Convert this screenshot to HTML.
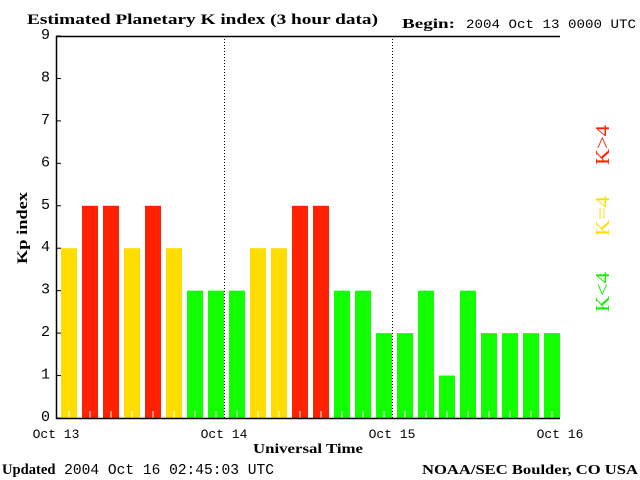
<!DOCTYPE html>
<html><head><meta charset="utf-8"><style>
body{margin:0;background:#fff;}
svg{display:block;font-family:"Liberation Mono",monospace;}
</style></head><body>
<svg id="chart" width="640" height="480" viewBox="0 0 640 480">
<text x="27" y="24" font-size="15" font-weight="bold" font-family="Liberation Serif, serif" textLength="351" lengthAdjust="spacingAndGlyphs">Estimated Planetary K index (3 hour data)</text>
<text x="402" y="28" font-size="14" font-weight="bold" font-family="Liberation Serif, serif" textLength="53" lengthAdjust="spacingAndGlyphs">Begin:</text>
<text x="466" y="28" font-size="13" textLength="170" lengthAdjust="spacingAndGlyphs">2004 Oct 13 0000 UTC</text>
<text transform="translate(27,228) rotate(-90)" text-anchor="middle" font-size="15" font-weight="bold" font-family="Liberation Serif, serif" textLength="72" lengthAdjust="spacingAndGlyphs">Kp index</text>
<text x="253" y="453" font-size="14" font-weight="bold" font-family="Liberation Serif, serif" textLength="110" lengthAdjust="spacingAndGlyphs">Universal Time</text>
<text x="2" y="474" font-size="15" textLength="272" lengthAdjust="spacingAndGlyphs"><tspan font-weight="bold" font-family="Liberation Serif, serif">Updated</tspan> 2004 Oct 16 02:45:03 UTC</text>
<text x="422" y="474" font-size="14" font-weight="bold" font-family="Liberation Serif, serif" textLength="216" lengthAdjust="spacingAndGlyphs">NOAA/SEC Boulder, CO USA</text>
<text transform="translate(609,292) rotate(-90)" text-anchor="middle" font-size="20" fill="#11ee00" font-family="Liberation Serif, serif" textLength="40" lengthAdjust="spacingAndGlyphs">K&lt;4</text>
<text transform="translate(609,216) rotate(-90)" text-anchor="middle" font-size="20" fill="#ffdd00" font-family="Liberation Serif, serif" textLength="40" lengthAdjust="spacingAndGlyphs">K=4</text>
<text transform="translate(609,145) rotate(-90)" text-anchor="middle" font-size="20" fill="#ff2200" font-family="Liberation Serif, serif" textLength="40" lengthAdjust="spacingAndGlyphs">K&gt;4</text>
<g id="plot"></g>
</svg>
<script>
const kpValues = [4,5,5,4,5,4,3,3, 3,4,4,5,5,3,3,2, 2,3,1,3,2,2,2,2];
const yTicks = [0,1,2,3,4,5,6,7,8,9];
const dayLabels = ["Oct 13","Oct 14","Oct 15","Oct 16"];
const X0=56, X1=560, Y0=418, YT=36;
const g=document.getElementById('plot');
const NS='http://www.w3.org/2000/svg';
function yS(v){return Y0-(Y0-YT)*v/9;}
function xS(i){return X0+(X1-X0)*i/kpValues.length;}
function mk(t,a){const e=document.createElementNS(NS,t);for(const k in a)e.setAttribute(k,a[k]);g.appendChild(e);return e;}
const bw=(X1-X0)/kpValues.length;
kpValues.forEach((v,i)=>{
  const col=v>4?'#ff2200':(v==4?'#ffdd00':'#11ff00');
  const r=mk('rect',{x:xS(i)+5,y:yS(v),width:bw-5,height:Y0-yS(v),fill:col});
  
  
  const tk=mk('line',{x1:xS(i)+5+(bw-5)/2,x2:xS(i)+5+(bw-5)/2,y1:Y0-7,y2:Y0,stroke:'#fff','stroke-width':1});
  
  
});
for(let d=1;d<dayLabels.length-1;d++){
  const x=X0+(X1-X0)*d/(dayLabels.length-1)+0.5;
  const l=mk('line',{x1:x,x2:x,y1:YT,y2:Y0,stroke:'#000','stroke-dasharray':'1,2'});
  
  
}
const ax=mk('path',{d:`M${X1} ${YT+0.5}H${X0+0.5}V${Y0+0.5}H${X1}`,fill:'none',stroke:'#000','stroke-width':1.5});


yTicks.forEach(v=>{
  const y=yS(v);
  const t=mk('line',{x1:X0,x2:X0+5,y1:y,y2:y,stroke:'#000'});
  
  
  const tx=mk('text',{x:50,y:y+3,'text-anchor':'end','font-size':15});
  tx.textContent=v;
  
  
});
dayLabels.forEach((s,d)=>{
  const x=X0+(X1-X0)*d/(dayLabels.length-1);
  const tx=mk('text',{x:x,y:438,'text-anchor':'middle','font-size':13});
  tx.textContent=s;
  
  
});
</script>
</body></html>
